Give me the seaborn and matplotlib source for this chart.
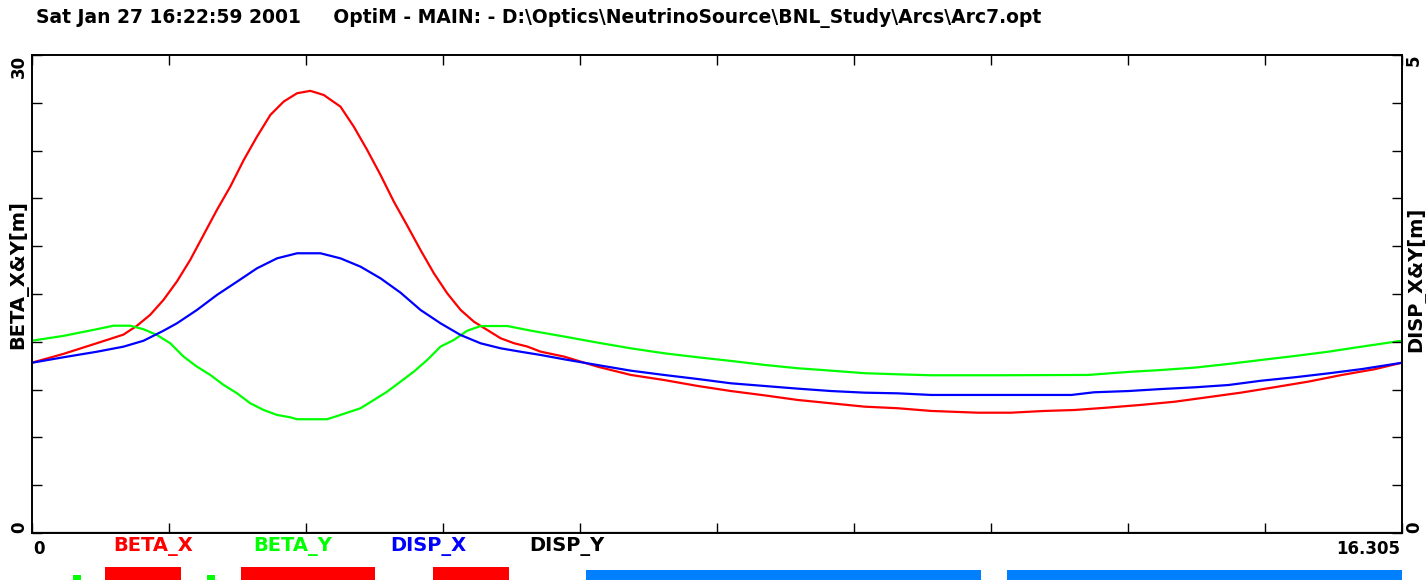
import matplotlib
matplotlib.use("Agg")
import matplotlib.pyplot as plt
import seaborn as sns
import numpy as np

# ---- data ----
S_END = 16.305

S_BX = [0.000, 0.373, 0.771, 1.088, 1.247, 1.406, 1.565, 1.724, 1.883, 2.042,
        2.201, 2.360, 2.519, 2.678, 2.837, 2.996, 3.155, 3.313, 3.472, 3.671,
        3.830, 3.989, 4.148, 4.306, 4.465, 4.624, 4.783, 4.942, 5.101, 5.260,
        5.419, 5.578, 5.737, 5.896, 6.055, 6.333, 6.730, 7.127, 7.524, 7.921,
        8.318, 8.716, 9.113, 9.510, 9.907, 10.304, 10.701, 11.26, 11.65, 12.05,
        12.41, 12.80, 13.20, 13.60, 13.99, 14.39, 14.79, 15.19, 15.59, 15.98,
        16.305]
BETA_X = [10.69, 11.24, 11.91, 12.45, 13.00, 13.69, 14.63, 15.78, 17.14, 18.71,
          20.28, 21.74, 23.40, 24.88, 26.24, 27.08, 27.60, 27.75, 27.49, 26.76,
          25.50, 24.04, 22.47, 20.80, 19.30, 17.76, 16.30, 15.04, 14.00, 13.26,
          12.74, 12.22, 11.91, 11.70, 11.38, 11.07, 10.44, 9.92, 9.60, 9.23,
          8.91, 8.64, 8.35, 8.14, 7.93, 7.83, 7.66, 7.55, 7.55, 7.66,
          7.72, 7.87, 8.04, 8.24, 8.52, 8.81, 9.15, 9.50, 9.92, 10.28,
          10.69]

S_BY = [0.000, 0.373, 0.771, 0.969, 1.168, 1.327, 1.486, 1.645, 1.804, 1.963,
        2.122, 2.281, 2.440, 2.598, 2.757, 2.916, 3.075, 3.155, 3.512, 3.671,
        3.910, 4.069, 4.227, 4.386, 4.545, 4.704, 4.863, 5.022, 5.181, 5.340,
        5.658, 5.936, 6.333, 6.730, 7.127, 7.524, 7.921, 8.318, 8.716, 9.113,
        9.510, 9.907, 10.304, 10.701, 11.50, 12.57, 13.05, 13.44, 13.84, 14.24,
        14.63, 15.03, 15.43, 15.83, 16.305]
BETA_Y = [12.07, 12.37, 12.79, 13.01, 13.01, 12.79, 12.43, 11.91, 11.07, 10.44,
          9.92, 9.29, 8.77, 8.14, 7.72, 7.41, 7.26, 7.14, 7.14, 7.41,
          7.83, 8.35, 8.87, 9.50, 10.13, 10.86, 11.70, 12.12, 12.70, 12.99,
          12.99, 12.70, 12.33, 11.95, 11.59, 11.28, 11.03, 10.80, 10.55, 10.34,
          10.19, 10.03, 9.96, 9.90, 9.90, 9.92, 10.11, 10.23, 10.38, 10.61,
          10.86, 11.11, 11.38, 11.70, 12.07]

S_DX = [0.000, 0.373, 0.771, 1.088, 1.327, 1.565, 1.724, 1.963, 2.201, 2.440,
        2.678, 2.916, 3.155, 3.433, 3.671, 3.910, 4.148, 4.386, 4.624, 4.863,
        5.101, 5.340, 5.578, 5.816, 6.055, 6.333, 6.730, 7.127, 7.524, 7.921,
        8.318, 8.716, 9.113, 9.510, 9.907, 10.304, 10.701, 12.37, 12.64, 13.05,
        13.44, 13.84, 14.24, 14.63, 15.03, 15.43, 15.83, 16.305]
DISP_X = [1.781, 1.838, 1.896, 1.949, 2.011, 2.116, 2.193, 2.333, 2.490, 2.629,
          2.769, 2.873, 2.926, 2.926, 2.873, 2.786, 2.664, 2.514, 2.333, 2.193,
          2.071, 1.984, 1.932, 1.896, 1.862, 1.817, 1.757, 1.698, 1.653, 1.611,
          1.566, 1.538, 1.510, 1.485, 1.468, 1.461, 1.444, 1.444, 1.472, 1.485,
          1.506, 1.524, 1.548, 1.593, 1.629, 1.670, 1.715, 1.781]

S_DY = [0.0, 16.305]
DISP_Y = [0.0, 0.0]

# lattice elements along s (start, end, kind)
EL_START = [0.488, 0.869, 2.083, 2.487, 4.772, 6.593, 11.604]
EL_END = [0.583, 1.773, 2.178, 4.082, 5.677, 11.294, 16.305]
EL_KIND = ['corr', 'quad', 'corr', 'quad', 'quad', 'bend', 'bend']

EL_COLOR = {'quad': '#ff0000', 'bend': '#0080ff', 'corr': '#00ff00'}
EL_HEIGHT = {'quad': 13, 'bend': 10, 'corr': 5}

sns.set_style("white")
plt.rcParams['font.family'] = ['DejaVu Sans']
plt.rcParams['font.weight'] = 'bold'
plt.rcParams['text.color'] = 'black'

W, H = 1426, 580
fig = plt.figure(figsize=(W / 100, H / 100), dpi=100)


def px(x, y):
    return x / W, 1 - y / H


ax = fig.add_axes([32 / W, 47 / H, 1370 / W, 478 / H])
ax2 = ax.twinx()

sns.lineplot(x=S_BX, y=BETA_X, ax=ax, color='#ff0000', lw=1.6, estimator=None)
sns.lineplot(x=S_BY, y=BETA_Y, ax=ax, color='#00ff00', lw=1.6, estimator=None)
sns.lineplot(x=S_DX, y=DISP_X, ax=ax2, color='#0000ff', lw=1.6, estimator=None)
sns.lineplot(x=S_DY, y=DISP_Y, ax=ax2, color='black', lw=1.6, estimator=None)

ax.set_xlim(0, S_END)
ax.set_ylim(0, 30)
ax2.set_ylim(0, 5)
ax.set_xticks(np.linspace(0, S_END, 11))
ax.set_yticks(np.arange(0, 30.1, 3))
ax2.set_yticks(np.arange(0, 5.01, 0.5))
ax.tick_params(direction='in', length=7, width=1, top=True, bottom=True,
               labelbottom=False, labelleft=False, color='black')
ax2.tick_params(direction='in', length=7, width=1, labelright=False, color='black')
for a in (ax, ax2):
    a.set_xlabel('')
    a.set_ylabel('')
    for sp in a.spines.values():
        sp.set_color('black')
        sp.set_linewidth(1.2)

# tick end labels
lab = dict(fontsize=12, fontweight='bold', color='black')
fig.text(*px(19, 55), '30', rotation=90, ha='center', va='top', **lab)
fig.text(*px(19, 533), '0', rotation=90, ha='center', va='bottom', **lab)
fig.text(*px(1414, 55), '5', rotation=90, ha='center', va='top', **lab)
fig.text(*px(1414, 533), '0', rotation=90, ha='center', va='bottom', **lab)
fig.text(*px(33, 540), '0', ha='left', va='top', **lab)
fig.text(*px(1400, 540), '16.305', ha='right', va='top', **lab)

fig.text(*px(18, 275), 'BETA_X&Y[m]', rotation=90, ha='center', va='center',
         fontsize=14, fontweight='bold', color='black')
fig.text(*px(1416, 279), 'DISP_X&Y[m]', rotation=90, ha='center', va='center',
         fontsize=14, fontweight='bold', color='black')

fig.text(*px(36, 18), r'Sat Jan 27 16:22:59 2001     OptiM - MAIN: - D:\Optics\NeutrinoSource\BNL_Study\Arcs\Arc7.opt',
         ha='left', va='center', fontsize=13.5, fontweight='bold', color='black')

# legend line
for label, col, xc in [('BETA_X', '#ff0000', 153), ('BETA_Y', '#00ff00', 293),
                       ('DISP_X', '#0000ff', 428), ('DISP_Y', 'black', 567)]:
    fig.text(*px(xc, 547), label, ha='center', va='center', color=col,
             fontsize=14, fontweight='bold')

# element bars
ax_el = fig.add_axes([32 / W, 0, 1370 / W, 20 / H])
ax_el.set_xlim(0, S_END)
ax_el.set_ylim(0, 20)
ax_el.axis('off')
ax_el.bar(EL_START, [EL_HEIGHT[k] for k in EL_KIND],
          width=[e - s for s, e in zip(EL_START, EL_END)], align='edge',
          color=[EL_COLOR[k] for k in EL_KIND], linewidth=0)

fig.savefig('out.png', dpi=100)
